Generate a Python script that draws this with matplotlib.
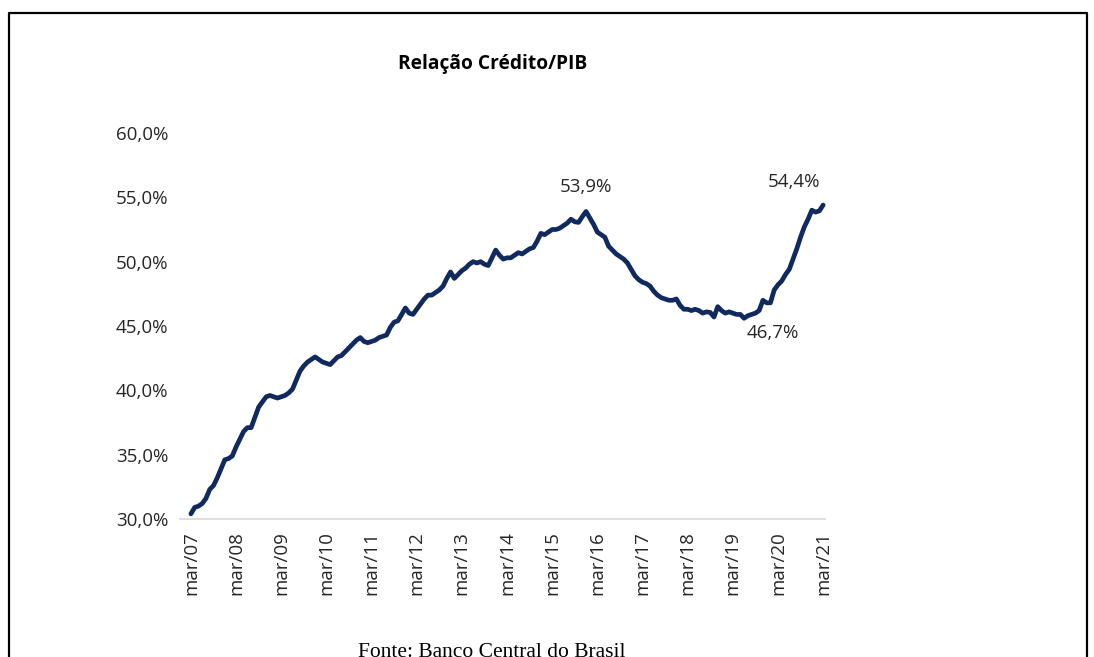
import numpy as np
import matplotlib.pyplot as plt
from matplotlib.lines import Line2D

plt.rcParams["font.family"] = ["Open Sans", "DejaVu Sans"]

# monthly credit / GDP ratio, mar/07 .. mar/21
credito_pib = [
    30.4, 30.9, 31.0, 31.2, 31.6, 32.3, 32.6, 33.2, 33.9, 34.6, 34.7, 34.9,
    35.6, 36.2, 36.8, 37.1, 37.1, 37.9, 38.7, 39.1, 39.5, 39.6, 39.5, 39.4,
    39.5, 39.6, 39.8, 40.1, 40.8, 41.5, 41.9, 42.2, 42.4, 42.6, 42.4, 42.2,
    42.1, 42.0, 42.3, 42.6, 42.7, 43.0, 43.3, 43.6, 43.9, 44.1, 43.8, 43.7,
    43.8, 43.9, 44.1, 44.2, 44.3, 44.9, 45.3, 45.4, 45.9, 46.4, 46.0, 45.9,
    46.3, 46.7, 47.1, 47.4, 47.4, 47.6, 47.8, 48.1, 48.7, 49.2, 48.7, 49.0,
    49.3, 49.5, 49.8, 50.0, 49.9, 50.0, 49.8, 49.7, 50.3, 50.9, 50.5, 50.2,
    50.3, 50.3, 50.5, 50.7, 50.6, 50.8, 51.0, 51.1, 51.6, 52.2, 52.1, 52.3,
    52.5, 52.5, 52.6, 52.8, 53.0, 53.3, 53.1, 53.05, 53.5, 53.9, 53.4, 52.9,
    52.3, 52.1, 51.9, 51.2, 50.9, 50.6, 50.4, 50.2, 49.9, 49.4, 48.9, 48.6,
    48.4, 48.3, 48.1, 47.7, 47.4, 47.2, 47.1, 47.0, 47.0, 47.1, 46.6, 46.3,
    46.3, 46.2, 46.3, 46.2, 46.0, 46.1, 46.05, 45.7, 46.5, 46.2, 46.0, 46.1,
    46.0, 45.9, 45.9, 45.6, 45.8, 45.9, 46.0, 46.2, 47.0, 46.8, 46.8, 47.8,
    48.2, 48.5, 49.0, 49.4, 50.2, 51.0, 51.9, 52.7, 53.3, 54.0, 53.85, 53.95,
    54.4,
]
tick_labels = ["mar/%02d" % a for a in range(7, 22)]
y_ticks = [30, 35, 40, 45, 50, 55, 60]

# annotations: (month index, value, text)
rotulos = [(105, 53.9, "53,9%"), (168, 54.4, "54,4%"), (152, 46.7, "46,7%")]

W, H = 1094, 657
fig = plt.figure(figsize=(W / 100, H / 100), dpi=100)
ax = fig.add_axes([180 / W, 1 - 519 / H, 645 / W, 386 / H])

x = np.arange(len(credito_pib))
ax.plot(x, credito_pib, color="#10295f", lw=3.4, solid_capstyle="round",
        solid_joinstyle="round", clip_on=False)

ax.set_xlim(-2.9, 168.5)
ax.set_ylim(30, 60)
ax.set_xticks(np.arange(0, len(credito_pib), 12))
ax.set_xticklabels(tick_labels, rotation=90, fontsize=13.5, color="#262626")
ax.set_yticks(y_ticks)
ax.set_yticklabels(["%d,0%%" % v for v in y_ticks], fontsize=13.5, color="#262626")
ax.tick_params(axis="both", length=0)
ax.tick_params(axis="x", pad=9)
ax.tick_params(axis="y", pad=8.5)

for s in ["top", "right", "left"]:
    ax.spines[s].set_visible(False)
ax.spines["bottom"].set_color("#d9d9d9")
ax.spines["bottom"].set_linewidth(1.2)

offsets = {"53,9%": (0, 11), "54,4%": (-21, 10), "46,7%": (7, -14)}
for i, v, t in rotulos:
    dx, dy = offsets[t]
    ax.annotate(t, (i, v), xytext=(dx, dy), textcoords="offset points",
                ha="center", va="bottom" if dy > 0 else "top",
                fontsize=13.5, color="#262626")

fig.text(493 / W, 1 - 64 / H, "Relação Crédito/PIB", ha="center", va="center",
         fontsize=13.8, fontweight="bold", color="black")
fig.text(492 / W, 1 - 643 / H, "Fonte: Banco Central do Brasil", ha="center",
         va="top", fontsize=15.5, family="Liberation Serif", color="black")

# outer frame
fx0, fx1, fy0 = 8.5 / W, 1087 / W, 1 - 12.5 / H
fig.add_artist(Line2D([fx0, fx0, fx1, fx1], [-0.05, fy0, fy0, -0.05],
                      color="black", lw=1.6, transform=fig.transFigure))

plt.savefig("out.png", dpi=100)
